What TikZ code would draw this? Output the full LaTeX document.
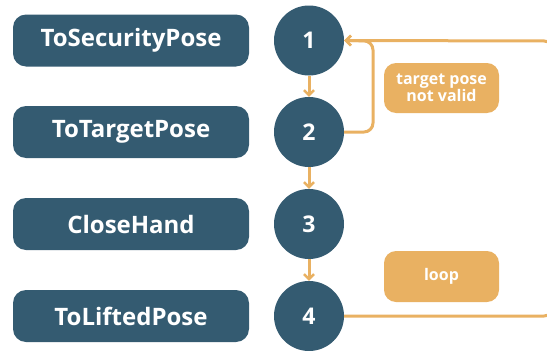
\documentclass[tikz,border=0pt]{standalone}
\usepackage{fontspec}
\setmainfont{Open Sans}
\usetikzlibrary{arrows.meta}
\definecolor{darkblue}{HTML}{345B71}
\definecolor{gold}{HTML}{E9B162}
\begin{document}
\begin{tikzpicture}[x=1pt,y=-1pt,
  statebox/.style={fill=darkblue, rounded corners=13pt, minimum width=236pt, minimum height=52pt, text=white, font=\bfseries\fontsize{24}{28}\selectfont, inner sep=0pt},
  numcirc/.style={circle, fill=darkblue, minimum size=70pt, text=white, font=\bfseries\fontsize{23}{26}\selectfont, inner sep=0pt},
  labelbox/.style={fill=gold, rounded corners=12pt, minimum width=115pt, minimum height=50pt, text=white, font=\bfseries\fontsize{16}{19}\selectfont, align=center, inner sep=0pt},
  flow/.style={draw=gold, line width=3pt, -{Straight Barb[length=5pt,width=10pt,line width=2.5pt]}},
  back/.style={draw=gold, line width=3pt, rounded corners=9pt, -{Straight Barb[length=5pt,width=10pt,line width=2.5pt]}}]
\clip (0,0) rectangle (547,351);
\useasboundingbox (0,0) rectangle (547,351);
\node[statebox] (b1) at (131,40.5) {ToSecurityPose};
\node[statebox] (b2) at (131,132) {ToTargetPose};
\node[statebox] (b3) at (131,224) {CloseHand};
\node[statebox] (b4) at (131,316) {ToLiftedPose};
\node[numcirc] (c1) at (309,40.5) {1};
\node[numcirc] (c2) at (309,132) {2};
\node[numcirc] (c3) at (309,224) {3};
\node[numcirc] (c4) at (309,316) {4};
\node[labelbox] (lt) at (441.5,88) {target pose\\[-2pt]not valid};
\node[labelbox, minimum height=51pt] (ll) at (441.5,276.5) {loop};
\draw[flow] (c1.south) -- (c2.north);
\draw[flow] (c2.south) -- (c3.north);
\draw[flow] (c3.south) -- (c4.north);
\coordinate (r2) at (373,132);
\coordinate (r1) at (373,41);
\coordinate (e4) at (553,316);
\coordinate (e1) at (553,41);
\draw[back] (c2.east) -- (r2) -- (r1) -- (c1.east);
\draw[back] (c4.east) -- (e4) -- (e1) -- (c1.east);
\end{tikzpicture}
\end{document}
